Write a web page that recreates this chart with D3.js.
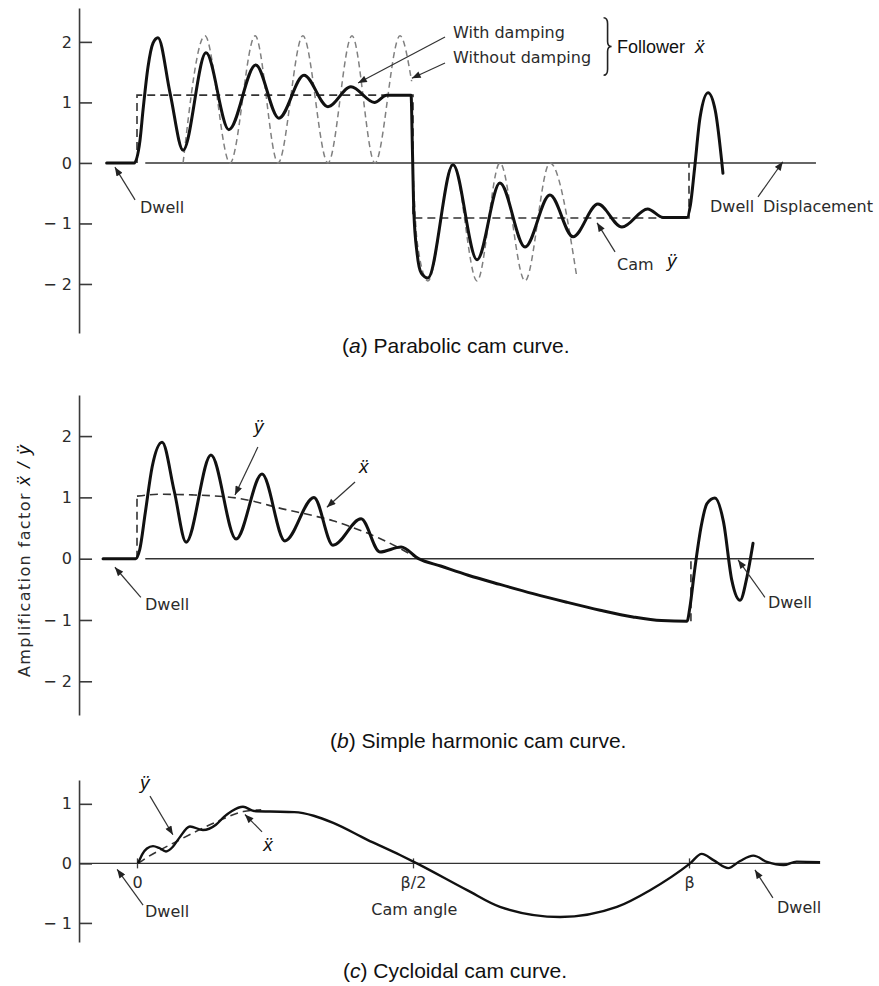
<!DOCTYPE html>
<html>
<head>
<meta charset="utf-8">
<script src="https://cdn.jsdelivr.net/npm/d3@7"></script>
<style>
  body { margin: 0; background: #fff; }
  .axis path, .axis line { stroke: #3a3a3a; stroke-width: 1.6px; }
  .axis text { font-family: "DejaVu Sans", sans-serif; font-size: 16px; fill: #2b2b2b; }
  .solid { fill: none; stroke: #111; stroke-width: 3px; stroke-linejoin: round; stroke-linecap: round; }
  .thin { fill: none; stroke: #111; stroke-width: 2.4px; stroke-linejoin: round; }
  .step { fill: none; stroke: #333; stroke-width: 1.6px; stroke-dasharray: 8 5; }
  .undamped { fill: none; stroke: #808080; stroke-width: 1.5px; stroke-dasharray: 6 4; }
  .base { stroke: #333; stroke-width: 1.4px; }
  .pointer { stroke: #333; stroke-width: 1.2px; }
  .letter { font-family: "DejaVu Sans", sans-serif; font-size: 16px; fill: #2b2b2b; }
  .type { font-family: "Liberation Sans", Arial, sans-serif; font-size: 18px; fill: #111; }
  .sym { font-family: "Liberation Sans", Arial, sans-serif; font-size: 19px; font-style: italic; fill: #111; }
  .caption { font-family: "Liberation Sans", Arial, sans-serif; font-size: 21px; fill: #111; }
</style>
</head>
<body>
<script>
// cam angle runs 0..200 (0 = start of rise, 100 = beta/2, 200 = beta)

// (a) parabolic cam
var dampedA = [[-11,0],[-1,0],[1.1,0.38],[2.2,0.88],[4,1.59],[5.8,1.98],[7.6,2.07],[12,1.15],[16.7,0.21],
  [25,1.82],[33.3,0.55],[43,1.62],[51.4,0.74],[60.5,1.45],[69.2,0.93],[77.5,1.26],[86,1.0],[90.5,1.12],
  [99.3,1.12],[99.8,0.2],[100.3,-0.8],[101.5,-1.5],[103,-1.82],[105.4,-1.9],[114.5,-0.03],[123.2,-1.6],
  [131.5,-0.33],[140.6,-1.39],[149.6,-0.53],[158,-1.22],[167,-0.68],[175.7,-1.06],[185,-0.76],[190.6,-0.9],
  [199.3,-0.9],[200.5,-0.7],[202,-0.1],[204,0.75],[206.9,1.16],[209.5,0.87],[212.3,-0.17]];
var undampedA1 = [[16.7,0],[24.6,2.1],[33.7,0],[42.8,2.1],[51.1,0],[60.1,2.1],[69.2,0],
  [77.9,2.1],[86.2,0],[95.3,2.1],[99.5,1.35]];
var undampedA2 = [[100.2,-0.3],[101.5,-1.3],[105.4,-1.95],[114.5,0],[123.2,-1.95],[131.5,0],[140.6,-1.95],
  [149.6,0],[159.4,-1.9]];
var camStepA = [[0,0],[0,1.12],[100,1.12],[100,-0.91],[200,-0.91],[200,0]];
var baseA = [3, 246];

// (b) simple harmonic cam
var followerB = [[-12.3,0],[-0.5,0],[1,0.15],[3,0.75],[5.5,1.5],[9.1,1.9],[13.5,1.1],[17.8,0.27],[26.8,1.69],
  [35.9,0.32],[45.3,1.38],[53.6,0.29],[64.1,1.0],[71,0.22],[81.2,0.65],[88,0.11],[95.7,0.19],[102,0],
  [110,-0.12],[120,-0.27],[131.5,-0.42],[143.5,-0.57],[155.7,-0.71],[167.8,-0.84],[179.7,-0.95],[190,-1.01],
  [199.3,-1.02],[200.3,-0.8],[202,-0.2],[204.5,0.55],[206.5,0.9],[209.4,0.99],[212.5,0.6],[215.5,-0.35],
  [218.5,-0.68],[221,-0.3],[223.2,0.25]];
var camB = [[0,1.02],[8,1.05],[20,1.04],[36,0.99],[54,0.8],[64,0.7],[71,0.62],[81,0.46],[88,0.33],[96,0.15],[102,0]];
var risersB = [[0,0,1.02],[200.7,-1.02,0]];
var baseB = [3, 245.3];

// (c) cycloidal cam
var followerC = [[0.4,0],[2,0.16],[3.6,0.25],[5.8,0.29],[8,0.26],[10.5,0.2],[13,0.28],[15.2,0.42],[19.2,0.62],
  [23.9,0.56],[28.6,0.65],[31.5,0.78],[34.4,0.88],[38.4,0.95],[42.4,0.88],[48.2,0.87],[57,0.86],[64,0.8],
  [71.1,0.68],[83.3,0.4],[95.3,0.14],[101.4,0],[119.6,-0.45],[131.5,-0.73],[153.3,-0.9],[173.9,-0.73],
  [185.9,-0.45],[200.4,0],[204.6,0.16],[209,0.05],[214.2,-0.08],[218.5,0.04],[223.3,0.13],[228.5,0.02],
  [234.2,-0.03],[239,0.03],[247.5,0.02]];
var camC = [[0.4,0],[2.3,0.06],[14.4,0.37],[28.9,0.7],[38.5,0.87],[45,0.9]];
var baseC = [-20.7, 247.5];
var camTicks = [0, 100, 200];
var camTickLabels = ["0", "\u03B2/2", "\u03B2"];

var ticksAB = [-2, -1, 0, 1, 2];
var ticksC = [-1, 0, 1];

// annotations: [angle, value, text, class, anchor]
var labelsA = [[114.5,2.07,"With damping","letter"],[114.5,1.65,"Without damping","letter"],
  [173.9,1.82,"Follower","type"],[202.2,1.82,"\u1E8D","sym"],[1.1,-0.83,"Dwell","letter"],
  [207.6,-0.81,"Dwell","letter"],[226.8,-0.81,"Displacement","letter"],[173.9,-1.77,"Cam","letter"],
  [192,-1.72,"\u00FF","sym"]];
var arrowsA = [[111.6,2.08,80.1,1.32],[111.6,1.65,99.6,1.40],[-0.7,-0.61,-8,-0.07],[225,-0.56,234,0.02],
  [173.2,-1.47,166.7,-0.99]];
var braceA = [170.5, 2.4, 1.45];

var labelsB = [[42.4,2.05,"\u00FF","sym"],[80.4,1.40,"\u1E8D","sym"],[2.9,-0.84,"Dwell","letter"],
  [228.6,-0.81,"Dwell","letter"]];
var arrowsB = [[43.8,1.82,35.5,1.04],[79,1.25,68.8,0.84],[1.4,-0.63,-8,-0.14],[227.5,-0.63,217.8,-0.02]];

var labelsC = [[1.1,1.25,"\u00FF","sym"],[45.7,0.21,"\u1E8D","sym"],[2.9,-0.9,"Dwell","letter"],
  [100.5,-0.87,"Cam angle","letter","middle"],[231.9,-0.83,"Dwell","letter"]];
var arrowsC = [[4.7,1.13,13,0.48],[45.3,0.53,39.1,0.82],[2.2,-0.7,-7.2,-0.1],[230.4,-0.58,223.9,-0.11]];

var width = 879, height = 986;
var axisAt = -21;

var svg = d3.select("body").append("svg")
  .attr("width", width).attr("height", height);

svg.append("defs").append("marker")
  .attr("id", "head").attr("viewBox", "0 0 10 8")
  .attr("refX", 10).attr("refY", 4)
  .attr("markerWidth", 10).attr("markerHeight", 7)
  .attr("markerUnits", "userSpaceOnUse").attr("orient", "auto")
  .append("path").attr("d", "M0,0L10,4L0,8Z").attr("fill", "#222");

var x = d3.scaleLinear().domain([0, 200]).range([137, 689]);
var yA = d3.scaleLinear().domain([-2.81, 2.56]).range([333, 8]);
var yB = d3.scaleLinear().domain([-2.55, 2.67]).range([715, 395]);
var yC = d3.scaleLinear().domain([-1.32, 1.40]).range([942, 780]);

function fmt(d) { return d < 0 ? "\u2212 " + Math.abs(d) : d; }

function yAxis(y, ticks) {
  svg.append("g").attr("class", "axis")
    .attr("transform", "translate(" + x(axisAt) + ",0)")
    .call(d3.axisLeft(y).tickValues(ticks).tickSizeInner(-13).tickSizeOuter(0).tickPadding(7).tickFormat(fmt));
}

function baseline(y, ext) {
  svg.append("line").attr("class", "base")
    .attr("x1", x(ext[0])).attr("x2", x(ext[1]))
    .attr("y1", y(0)).attr("y2", y(0));
}

function curve(y, pts, cls, kind) {
  svg.append("path").datum(pts).attr("class", cls)
    .attr("d", d3.line().x(function (d) { return x(d[0]); })
      .y(function (d) { return y(d[1]); })
      .curve(kind || d3.curveMonotoneX));
}

function arrows(y, list) {
  svg.selectAll(null).data(list).enter().append("line")
    .attr("class", "pointer")
    .attr("x1", function (d) { return x(d[0]); }).attr("y1", function (d) { return y(d[1]); })
    .attr("x2", function (d) { return x(d[2]); }).attr("y2", function (d) { return y(d[3]); })
    .attr("marker-end", "url(#head)");
}

function labels(y, list) {
  svg.selectAll(null).data(list).enter().append("text")
    .attr("class", function (d) { return d[3]; })
    .attr("x", function (d) { return x(d[0]); })
    .attr("y", function (d) { return y(d[1]); })
    .attr("text-anchor", function (d) { return d[4] || "start"; })
    .text(function (d) { return d[2]; });
}

function caption(px, py, letter, rest) {
  var t = svg.append("text").attr("class", "caption").attr("x", px).attr("y", py);
  t.append("tspan").text("(");
  t.append("tspan").attr("font-style", "italic").text(letter);
  t.append("tspan").text(") " + rest);
}

// ---- (a) ----
yAxis(yA, ticksAB);
baseline(yA, baseA);
curve(yA, undampedA1, "undamped");
curve(yA, undampedA2, "undamped");
curve(yA, camStepA, "step", d3.curveLinear);
curve(yA, dampedA, "solid");
arrows(yA, arrowsA);
labels(yA, labelsA);
var bx = x(braceA[0]), bt = yA(braceA[1]), bb = yA(braceA[2]), bm = (bt + bb) / 2;
svg.append("path").attr("fill", "none").attr("stroke", "#222").attr("stroke-width", 1.6)
  .attr("d", "M" + (bx - 4) + "," + bt + "Q" + bx + "," + bt + " " + bx + "," + (bt + 6) +
    "L" + bx + "," + (bm - 5) + "Q" + bx + "," + bm + " " + (bx + 4) + "," + bm +
    "Q" + bx + "," + bm + " " + bx + "," + (bm + 5) +
    "L" + bx + "," + (bb - 6) + "Q" + bx + "," + bb + " " + (bx - 4) + "," + bb);
caption(342, 353, "a", "Parabolic cam curve.");

// ---- (b) ----
yAxis(yB, ticksAB);
baseline(yB, baseB);
curve(yB, camB, "step");
svg.selectAll(null).data(risersB).enter().append("line").attr("class", "step")
  .attr("x1", function (d) { return x(d[0]); }).attr("x2", function (d) { return x(d[0]); })
  .attr("y1", function (d) { return yB(d[1]); }).attr("y2", function (d) { return yB(d[2]); });
curve(yB, followerB, "solid");
arrows(yB, arrowsB);
labels(yB, labelsB);
var ylab = svg.append("text").attr("class", "letter")
  .attr("transform", "translate(" + x(-38.8) + "," + yB(-1.93) + ") rotate(-90)")
  .attr("letter-spacing", "1.4px");
ylab.append("tspan").text("Amplification factor ");
ylab.append("tspan").attr("class", "sym").attr("font-size", "19px").text("\u1E8D / \u00FF");
caption(330, 748, "b", "Simple harmonic cam curve.");

// ---- (c) ----
yAxis(yC, ticksC);
baseline(yC, baseC);
svg.append("g").attr("class", "axis")
  .attr("transform", "translate(0," + yC(0) + ")")
  .call(d3.axisBottom(x).tickValues(camTicks).tickSize(5).tickPadding(8)
    .tickFormat(function (d, i) { return camTickLabels[i]; }))
  .call(function (g) { g.select(".domain").remove(); })
  .call(function (g) { g.selectAll(".tick line").attr("y1", -5).style("stroke-width", "1.3px"); });
curve(yC, camC, "step");
curve(yC, followerC, "thin");
arrows(yC, arrowsC);
labels(yC, labelsC);
caption(343, 978, "c", "Cycloidal cam curve.");
</script>
</body>
</html>
